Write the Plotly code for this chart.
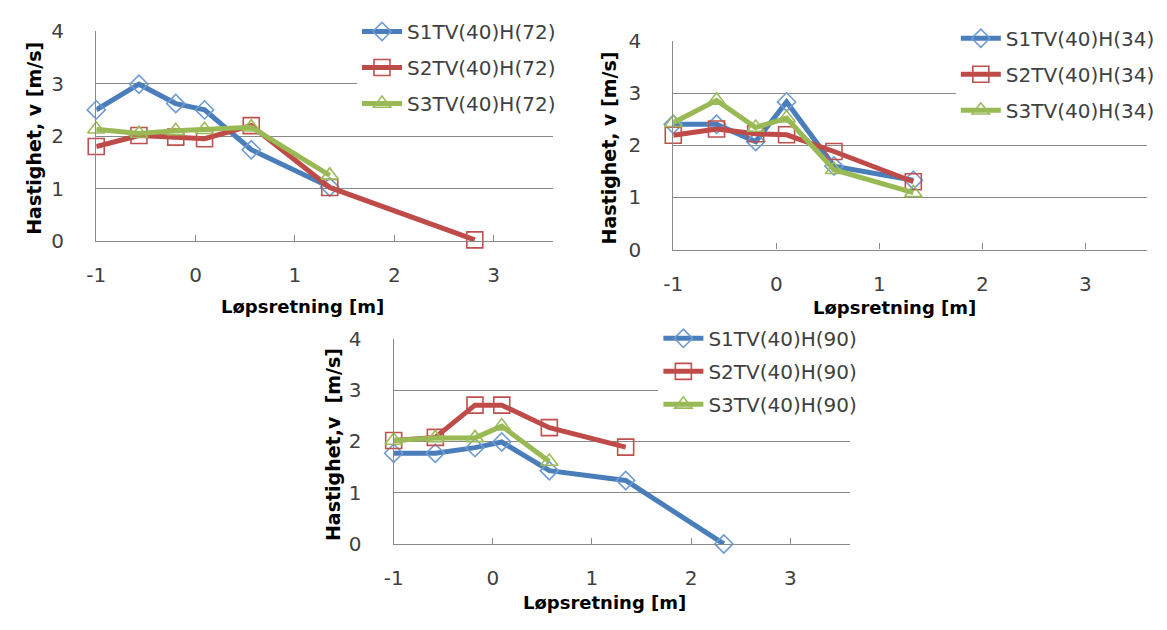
import plotly.graph_objects as go

W, H = 1167, 630

# ---------------- data ----------------
series_names = ["S1TV(40)H", "S2TV(40)H", "S3TV(40)H"]
x_label = "Løpsretning [m]"
x_ticks = [-1, 0, 1, 2, 3]
y_ticks = [0, 1, 2, 3, 4]

# chart 1: H(72)
c1_tag = "(72)"
c1_s1_x = [-1, -0.57, -0.2, 0.09, 0.56, 1.35]
c1_s1_y = [2.50, 2.99, 2.62, 2.50, 1.74, 1.03]
c1_s2_x = [-1, -0.57, -0.2, 0.09, 0.56, 1.35, 2.81]
c1_s2_y = [1.80, 2.01, 1.98, 1.95, 2.20, 1.02, 0.02]
c1_s3_x = [-1, -0.57, -0.2, 0.09, 0.56, 1.35]
c1_s3_y = [2.13, 2.05, 2.10, 2.12, 2.17, 1.25]

# chart 2: H(34)
c2_tag = "(34)"
c2_s1_x = [-1, -0.58, -0.2, 0.1, 0.56, 1.33]
c2_s1_y = [2.40, 2.40, 2.07, 2.83, 1.60, 1.33]
c2_s2_x = [-1, -0.58, -0.2, 0.1, 0.56, 1.33]
c2_s2_y = [2.19, 2.31, 2.22, 2.20, 1.88, 1.30]
c2_s3_x = [-1, -0.58, -0.2, 0.1, 0.56, 1.33]
c2_s3_y = [2.43, 2.86, 2.34, 2.52, 1.53, 1.09]

# chart 3: H(90)
c3_tag = "(90)"
c3_s1_x = [-1, -0.58, -0.18, 0.09, 0.57, 1.34, 2.33]
c3_s1_y = [1.77, 1.77, 1.88, 1.99, 1.43, 1.24, 0.0]
c3_s2_x = [-1, -0.58, -0.18, 0.09, 0.57, 1.34]
c3_s2_y = [2.02, 2.08, 2.71, 2.71, 2.27, 1.89]
c3_s3_x = [-1, -0.58, -0.18, 0.09, 0.57]
c3_s3_y = [2.02, 2.07, 2.07, 2.30, 1.61]

y_titles = ["Hastighet, v [m/s]", "Hastighet, v [m/s]", "Hastighet,v  [m/s]"]

# ---------------- style ----------------
line_colors = ["#4A7EBB", "#BE4B48", "#98B954"]
marker_colors = ["#6F9BD3", "#C0504D", "#9BBB59"]
symbols = ["diamond-open", "square-open", "triangle-up-open"]
marker_sizes = [14, 16, 15]
FONT = "DejaVu Sans"
GRID = "#898989"
TXT = "#404040"

def px(x):
    return x / W

def py(y):
    return 1 - y / H

charts = [
    dict(tag=c1_tag, xs=[c1_s1_x, c1_s2_x, c1_s3_x], ys=[c1_s1_y, c1_s2_y, c1_s3_y],
         box=(87, 548, 20, 238), legend=(350, 0, 7), ytitle=(24, 131), xtitle=(295, 306)),
    dict(tag=c2_tag, xs=[c2_s1_x, c2_s2_x, c2_s3_x], ys=[c2_s1_y, c2_s2_y, c2_s3_y],
         box=(669, 1147, 30, 247), legend=(954, 7, 7), ytitle=(604, 141), xtitle=(892, 307)),
    dict(tag=c3_tag, xs=[c3_s1_x, c3_s2_x, c3_s3_x], ys=[c3_s1_y, c3_s2_y, c3_s3_y],
         box=(387, 847, 340, 553), legend=(654, 319, 4), ytitle=(326, 450), xtitle=(600, 614)),
]

fig = go.Figure()
layout = dict(
    width=W, height=H, margin=dict(l=0, r=0, t=0, b=0),
    paper_bgcolor="white", plot_bgcolor="white",
    font=dict(family=FONT, size=20, color=TXT),
    annotations=[],
)

for ci, ch in enumerate(charts):
    n = ci + 1
    xa = "x" if n == 1 else f"x{n}"
    ya = "y" if n == 1 else f"y{n}"
    lg = "legend" if n == 1 else f"legend{n}"
    for si in range(3):
        fig.add_trace(go.Scatter(
            x=ch["xs"][si], y=ch["ys"][si], xaxis=xa, yaxis=ya,
            mode="lines+markers", name=series_names[si] + ch["tag"],
            line=dict(color=line_colors[si], width=5),
            marker=dict(symbol=symbols[si], size=marker_sizes[si],
                        color=marker_colors[si], line=dict(width=1.6, color=marker_colors[si])),
            legend=lg, legendgroup=f"{n}_{si}", cliponaxis=False,
        ))
    x0, x1, y0, y1 = ch["box"]
    xkey = "xaxis" if n == 1 else f"xaxis{n}"
    ykey = "yaxis" if n == 1 else f"yaxis{n}"
    layout[xkey] = dict(
        domain=[px(x0), px(x1)], anchor=ya, range=[-1, 3.6],
        tickvals=x_ticks, ticktext=[str(v) if v >= 0 else "-" + str(-v) for v in x_ticks],
        ticks="inside", ticklen=6, tickcolor=GRID,
        showline=True, linecolor=GRID, linewidth=1.3, showgrid=False, zeroline=False,
        ticklabelstandoff=16, tickfont=dict(size=20, color=TXT),
    )
    layout[ykey] = dict(
        domain=[py(y1), py(y0)], anchor=xa, range=[0, 4],
        tickvals=y_ticks, ticks="", showline=True, linecolor=GRID, linewidth=1.3,
        showgrid=True, gridcolor=GRID, gridwidth=1.3, zeroline=False,
        ticklabelstandoff=27, tickfont=dict(size=20, color=TXT),
    )
    lx, ly, gap = ch["legend"]
    layout[lg] = dict(
        x=px(lx), y=py(ly), xanchor="left", yanchor="top", xref="paper", yref="paper",
        bgcolor="white", borderwidth=0, tracegroupgap=gap, traceorder="grouped",
        font=dict(family=FONT, size=20, color=TXT), itemwidth=40,
    )
    tx, ty = ch["ytitle"]
    layout["annotations"].append(dict(
        x=px(tx), y=py(ty), xref="paper", yref="paper", text="<b>" + y_titles[ci] + "</b>",
        textangle=-90, showarrow=False, font=dict(family=FONT, size=19, color="black"),
        xanchor="center", yanchor="middle",
    ))
    tx, ty = ch["xtitle"]
    layout["annotations"].append(dict(
        x=px(tx), y=py(ty), xref="paper", yref="paper", text="<b>" + x_label + "</b>",
        showarrow=False, font=dict(family=FONT, size=18, color="black"),
        xanchor="center", yanchor="middle",
    ))

fig.update_layout(**layout)
fig.write_html(
    "out.html",
    config={"displayModeBar": False},
    post_script="document.body.style.margin='0';document.body.style.overflow='hidden';",
)
